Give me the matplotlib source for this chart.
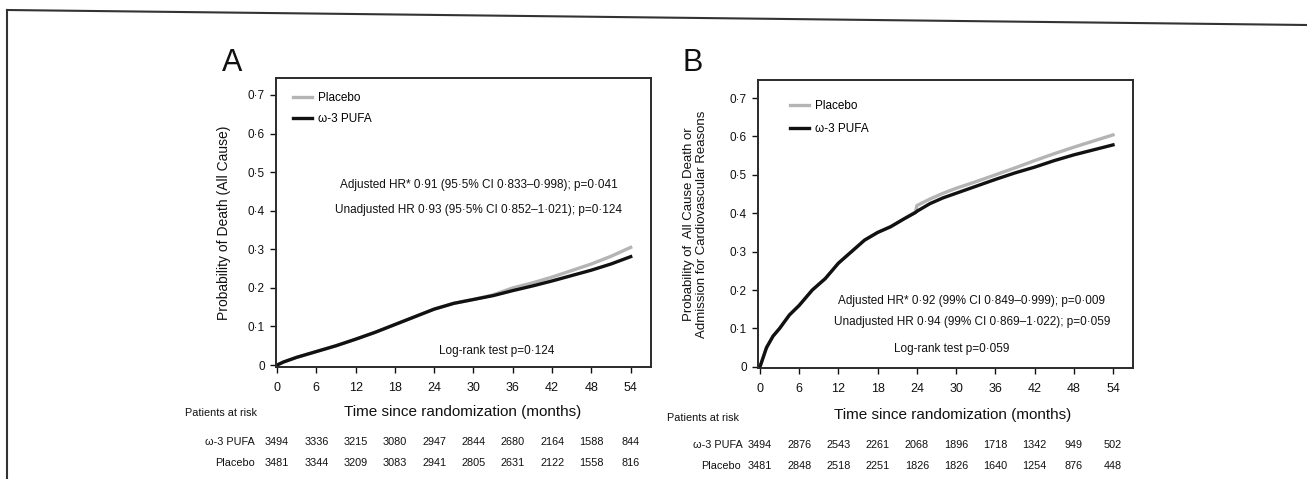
import numpy as np
import matplotlib
matplotlib.use("Agg")
import matplotlib.pyplot as plt
from matplotlib.lines import Line2D

plt.rcParams['font.family'] = ['Liberation Sans', 'DejaVu Sans']

W, H = 1307, 479
INK = '#111111'
GREY = '#b4b4b4'

# ---- data ----
# Panel A: all-cause death
t_a = [0, 1, 3, 6, 9, 12, 15, 18, 21, 24, 27, 30, 33, 36, 39, 42, 45, 48, 51, 54]
pufa_a = [0.0, 0.008, 0.02, 0.035, 0.05, 0.067, 0.085, 0.105, 0.125, 0.145, 0.16, 0.17,
          0.18, 0.193, 0.205, 0.218, 0.232, 0.246, 0.262, 0.281]
placebo_a = [0.0, 0.008, 0.02, 0.035, 0.05, 0.067, 0.085, 0.105, 0.125, 0.145, 0.16, 0.17,
             0.182, 0.2, 0.213, 0.228, 0.245, 0.262, 0.282, 0.305]

# Panel B: all-cause death or CV admission
t_b = [0, 0.3, 1, 2, 3, 4.5, 6, 8, 10, 12, 14, 16, 18, 20, 22, 23.8, 24, 26, 28, 30, 33,
       36, 39, 42, 45, 48, 51, 54]
pufa_b = [0.0, 0.015, 0.05, 0.08, 0.1, 0.135, 0.16, 0.2, 0.23, 0.27, 0.3, 0.33, 0.35, 0.365,
          0.385, 0.402, 0.405, 0.425, 0.44, 0.452, 0.47, 0.488, 0.505, 0.52, 0.537, 0.552,
          0.565, 0.578]
placebo_b = [0.0, 0.015, 0.05, 0.08, 0.1, 0.135, 0.16, 0.2, 0.23, 0.27, 0.3, 0.33, 0.35, 0.365,
             0.385, 0.404, 0.42, 0.437, 0.452, 0.465, 0.482, 0.5, 0.518, 0.537, 0.555, 0.572,
             0.588, 0.604]

xticks = [0, 6, 12, 18, 24, 30, 36, 42, 48, 54]
yticks = [0, 0.1, 0.2, 0.3, 0.4, 0.5, 0.6, 0.7]
ytick_labels = ['0', '0·1', '0·2', '0·3', '0·4', '0·5', '0·6', '0·7']

risk_pufa_a = [3494, 3336, 3215, 3080, 2947, 2844, 2680, 2164, 1588, 844]
risk_placebo_a = [3481, 3344, 3209, 3083, 2941, 2805, 2631, 2122, 1558, 816]
risk_pufa_b = [3494, 2876, 2543, 2261, 2068, 1896, 1718, 1342, 949, 502]
risk_placebo_b = [3481, 2848, 2518, 2251, 1826, 1826, 1640, 1254, 876, 448]

ylabel_a = 'Probability of Death (All Cause)'
ylabel_b = 'Probability of  All Cause Death or\nAdmission for Cardiovascular Reasons'
xlabel = 'Time since randomization (months)'
stats_a = ['Adjusted HR* 0·91 (95·5% CI 0·833–0·998); p=0·041',
           'Unadjusted HR 0·93 (95·5% CI 0·852–1·021); p=0·124',
           'Log-rank test p=0·124']
stats_b = ['Adjusted HR* 0·92 (99% CI 0·849–0·999); p=0·009',
           'Unadjusted HR 0·94 (99% CI 0·869–1·022); p=0·059',
           'Log-rank test p=0·059']


def px(l, t, r, b):
    return [l / W, 1 - b / H, (r - l) / W, (b - t) / H]


fig = plt.figure(figsize=(W / 100, H / 100), dpi=100)

# scanned page frame
fig.add_artist(Line2D([7 / W, 1], [1 - 10 / H, 1 - 25 / H], color='#333333', lw=1.5))
fig.add_artist(Line2D([7 / W, 7 / W], [1 - 10 / H, 0], color='#333333', lw=1.5))

ax_a = fig.add_axes(px(276, 78, 651, 367))
ax_b = fig.add_axes(px(758, 80, 1133, 368))


def style(ax, xlim, ylim):
    ax.set_xlim(*xlim)
    ax.set_ylim(*ylim)
    ax.set_xticks(xticks)
    ax.set_xticklabels([str(v) for v in xticks], fontsize=9, color=INK)
    ax.set_yticks(yticks)
    ax.set_yticklabels(ytick_labels, fontsize=8.5, color=INK)
    ax.tick_params(direction='out', length=4, width=1, color=INK)
    ax.tick_params(axis='x', pad=7)
    ax.tick_params(axis='y', pad=4)
    for s in ax.spines.values():
        s.set_linewidth(1.4)
        s.set_color('#2a2a2a')


# ---- panel A ----
ax_a.plot(t_a, placebo_a, color=GREY, lw=2.4, label='Placebo')
ax_a.plot(t_a, pufa_a, color=INK, lw=2.4, label='ω-3 PUFA')
style(ax_a, (-0.15, 57.1), (-0.005, 0.744))
ax_a.legend(loc='upper left', bbox_to_anchor=(0.045, 0.95), frameon=False, fontsize=8.5,
            handlelength=1.6, handletextpad=0.5, borderpad=0, borderaxespad=0,
            labelspacing=0.75)
ax_a.text(0.54, 0.63, stats_a[0], transform=ax_a.transAxes, ha='center', va='center',
          fontsize=8.5, color=INK)
ax_a.text(0.541, 0.543, stats_a[1], transform=ax_a.transAxes, ha='center', va='center',
          fontsize=8.5, color=INK)
ax_a.text(0.589, 0.055, stats_a[2], transform=ax_a.transAxes, ha='center', va='center',
          fontsize=8.5, color=INK)
ax_a.set_ylabel(ylabel_a, fontsize=10, color=INK, labelpad=12)
fig.text(463 / W, 1 - 412 / H, xlabel, ha='center', va='center', fontsize=11, color=INK)
fig.text(232 / W, 1 - 63 / H, 'A', ha='center', va='center', fontsize=22, color=INK)

# ---- panel B ----
ax_b.plot(t_b, placebo_b, color=GREY, lw=2.4, label='Placebo')
ax_b.plot(t_b, pufa_b, color=INK, lw=2.4, label='ω-3 PUFA')
style(ax_b, (-0.3, 57.06), (-0.003, 0.747))
ax_b.legend(loc='upper left', bbox_to_anchor=(0.085, 0.93), frameon=False, fontsize=8.5,
            handlelength=1.6, handletextpad=0.5, borderpad=0, borderaxespad=0,
            labelspacing=0.9)
ax_b.text(0.568, 0.233, stats_b[0], transform=ax_b.transAxes, ha='center', va='center',
          fontsize=8.5, color=INK)
ax_b.text(0.571, 0.16, stats_b[1], transform=ax_b.transAxes, ha='center', va='center',
          fontsize=8.5, color=INK)
ax_b.text(0.517, 0.066, stats_b[2], transform=ax_b.transAxes, ha='center', va='center',
          fontsize=8.5, color=INK)
ax_b.set_ylabel(ylabel_b, fontsize=9.5, color=INK, labelpad=16, linespacing=1.05)
fig.text(953 / W, 1 - 415 / H, xlabel, ha='center', va='center', fontsize=11, color=INK)
fig.text(693 / W, 1 - 63 / H, 'B', ha='center', va='center', fontsize=22, color=INK)

# ---- patients at risk tables ----
RF = 7.8
fig.text(185 / W, 1 - 413 / H, 'Patients at risk', ha='left', va='center', fontsize=RF, color=INK)
fig.text(255 / W, 1 - 442 / H, 'ω-3 PUFA', ha='right', va='center', fontsize=RF, color=INK)
fig.text(255 / W, 1 - 463 / H, 'Placebo', ha='right', va='center', fontsize=RF, color=INK)
tr_a = ax_a.get_xaxis_transform()
for x, n1, n2 in zip(xticks, risk_pufa_a, risk_placebo_a):
    ax_a.text(x, -(442 - 367) / 289, str(n1), transform=tr_a, ha='center', va='center',
              fontsize=RF, color=INK, clip_on=False)
    ax_a.text(x, -(463 - 367) / 289, str(n2), transform=tr_a, ha='center', va='center',
              fontsize=RF, color=INK, clip_on=False)

fig.text(667 / W, 1 - 418 / H, 'Patients at risk', ha='left', va='center', fontsize=RF, color=INK)
fig.text(743 / W, 1 - 445 / H, 'ω-3 PUFA', ha='right', va='center', fontsize=RF, color=INK)
fig.text(741 / W, 1 - 466 / H, 'Placebo', ha='right', va='center', fontsize=RF, color=INK)
tr_b = ax_b.get_xaxis_transform()
for x, n1, n2 in zip(xticks, risk_pufa_b, risk_placebo_b):
    ax_b.text(x, -(445 - 368) / 288, str(n1), transform=tr_b, ha='center', va='center',
              fontsize=RF, color=INK, clip_on=False)
    ax_b.text(x, -(466 - 368) / 288, str(n2), transform=tr_b, ha='center', va='center',
              fontsize=RF, color=INK, clip_on=False)

fig.savefig('out.png', dpi=100)
